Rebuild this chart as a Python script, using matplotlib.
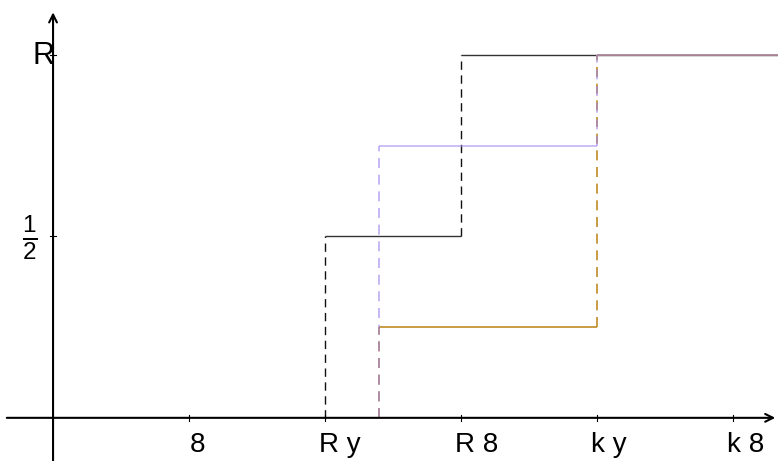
import matplotlib
matplotlib.use("Agg")
import matplotlib.pyplot as plt
from matplotlib.transforms import offset_copy

plt.rcParams['font.family'] = ['Liberation Sans', 'DejaVu Sans']
plt.rcParams['mathtext.fontset'] = 'custom'
plt.rcParams['mathtext.rm'] = 'Liberation Sans'
plt.rcParams['mathtext.it'] = 'Liberation Sans'

# data
x_ticks = [5, 10, 15, 20, 25]
x_tick_labels = ["8", "R y", "R 8", "k y", "k 8"]
y_ticks = [0.5, 1.0]
y_tick_labels = [r"$\frac{1}{2}$", "R"]

black_breaks = [10, 15]
black_levels = [0, 0.5, 1.0]
gold_breaks = [12, 20]
gold_levels = [0, 0.25, 1.0]
purple_breaks = [12, 20]
purple_levels = [0, 0.75, 1.0]

XMIN, XMAX = -1.95, 26.65
YMIN, YMAX = -0.119, 1.152

fig = plt.figure(figsize=(7.78, 4.61), dpi=100)
ax = fig.add_axes([0, 0, 1, 1])
ax.set_xlim(XMIN, XMAX)
ax.set_ylim(YMIN, YMAX)
ax.axis('off')


def step(breaks, levels, hcolor, vcolor, lw=1.0, alpha=1.0, z=2):
    ends = breaks[1:] + [XMAX]
    for i, b in enumerate(breaks):
        ax.plot([b, b], [levels[i], levels[i + 1]], color=vcolor, lw=lw,
                linestyle=(0, (6, 4)), alpha=alpha, zorder=z)
        ax.plot([b, ends[i]], [levels[i + 1], levels[i + 1]], color=hcolor,
                lw=lw, alpha=alpha, zorder=z, solid_capstyle='butt')


step(black_breaks, black_levels, '#333333', '#111111', z=2)
step(gold_breaks, gold_levels, '#c08a25', '#c08a25', lw=1.2, z=3)
step(purple_breaks, purple_levels, '#a58cf0', '#9a80ee', lw=1.2, alpha=0.65, z=4)

# axes with arrows
ax.annotate('', xy=(26.55, 0), xytext=(-1.7, 0),
            arrowprops=dict(arrowstyle='->', lw=1.5, color='black',
                            mutation_scale=14, shrinkA=0, shrinkB=0), zorder=5)
ax.annotate('', xy=(0, 1.118), xytext=(0, YMIN),
            arrowprops=dict(arrowstyle='->', lw=1.5, color='black',
                            mutation_scale=14, shrinkA=0, shrinkB=0), zorder=5)

# ticks
for t in x_ticks:
    ax.plot([t, t], [-0.009, 0.009], color='black', lw=0.8, zorder=5)
for t in y_ticks:
    ax.plot([-0.1, 0.1], [t, t], color='black', lw=0.8, zorder=5)

# tick labels
for t, lab in zip(x_ticks, x_tick_labels):
    dx = 1 if len(lab) == 1 else -6
    tr = offset_copy(ax.transData, fig=fig, x=dx, y=-14, units='dots')
    ax.text(t, 0, lab, transform=tr, ha='left', va='top', fontsize=20)

tr = offset_copy(ax.transData, fig=fig, x=1, y=-1, units='dots')
ax.text(0, 1.0, y_tick_labels[1], transform=tr, ha='right', va='center',
        fontsize=22)
tr = offset_copy(ax.transData, fig=fig, x=-16, y=-1, units='dots')
ax.text(0, 0.5, y_tick_labels[0], transform=tr, ha='right', va='center',
        fontsize=25)

fig.savefig('out.png', dpi=100)
